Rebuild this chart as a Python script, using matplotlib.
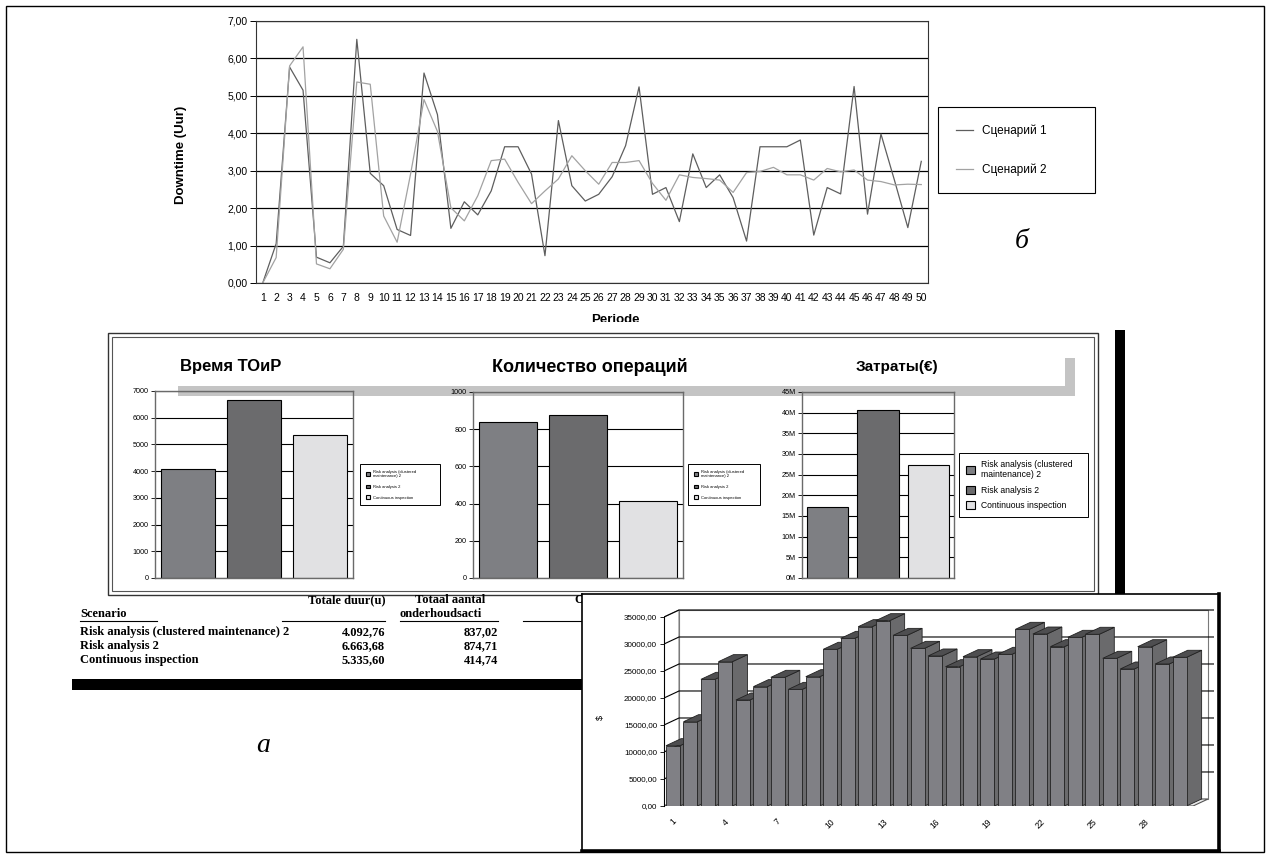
import matplotlib.pyplot as plt
from matplotlib.patches import Rectangle, Polygon
from matplotlib.ticker import FuncFormatter
from matplotlib.transforms import Bbox, TransformedBbox

plt.rcParams['font.family'] = ['Liberation Sans', 'DejaVu Sans']

W, H = 1271, 858

# downtime per period (hours), two scenarios
periods = list(range(1, 51))
downtime_s1 = [0.00, 1.05, 5.77, 5.15, 0.69, 0.54, 0.98, 6.51, 2.93, 2.60,
               1.43, 1.27, 5.61, 4.50, 1.46, 2.17, 1.82, 2.46, 3.64, 3.64,
               2.91, 0.73, 4.34, 2.60, 2.19, 2.37, 2.84, 3.67, 5.24, 2.37,
               2.55, 1.64, 3.45, 2.55, 2.89, 2.28, 1.12, 3.64, 3.64, 3.64,
               3.82, 1.28, 2.55, 2.38, 5.25, 1.84, 3.98, 2.75, 1.48, 3.25]
downtime_s2 = [0.00, 0.68, 5.80, 6.31, 0.51, 0.38, 0.90, 5.37, 5.31, 1.79,
               1.09, 2.91, 4.90, 4.05, 2.01, 1.66, 2.33, 3.27, 3.31, 2.69,
               2.12, 2.46, 2.78, 3.40, 3.00, 2.64, 3.22, 3.22, 3.27, 2.66,
               2.21, 2.89, 2.82, 2.79, 2.75, 2.42, 2.95, 2.98, 3.09, 2.89,
               2.89, 2.75, 3.06, 2.97, 3.02, 2.75, 2.71, 2.62, 2.64, 2.63]
scenario_names = ['Сценарий 1', 'Сценарий 2']

# strategy comparison
strategies = ['Risk analysis (clustered maintenance) 2', 'Risk analysis 2', 'Continuous inspection']
legend_names = ['Risk analysis (clustered\nmaintenance) 2', 'Risk analysis 2', 'Continuous inspection']
total_hours = [4092.76, 6663.68, 5335.60]
n_actions = [837.02, 874.71, 414.74]
costs_m = [17.2, 40.6, 27.4]

# cost per period ($)
cost_periods = list(range(1, 31))
cost_values = [11170, 15610, 23460, 26730, 19630, 22100, 23830, 21600, 23950, 29020,
               31050, 33210, 34320, 31600, 29200, 27780, 25800, 27650, 27220, 28090,
               32720, 31850, 29500, 31240, 31800, 27350, 25370, 29500, 26300, 27540]


def nl(v):
    return f'{v:,.2f}'.replace(',', 'X').replace('.', ',').replace('X', '.')


fig = plt.figure(figsize=(W / 100, H / 100), dpi=100)


def place(x0, y0, x1, y1):
    return fig.add_axes([x0 / W, 1 - y1 / H, (x1 - x0) / W, (y1 - y0) / H])


# page layer: frames, bands, captions, table
ov = place(0, 0, W, H)
ov.set_xlim(0, W)
ov.set_ylim(H, 0)
ov.axis('off')

ov.add_patch(Rectangle((6, 6), 1258, 846, fill=False, lw=1, ec='black'))
ov.add_patch(Rectangle((108, 333), 990, 262, fill=False, lw=1, ec='#333333'))
ov.add_patch(Rectangle((112, 337), 982, 254, fill=False, lw=0.8, ec='#555555'))
ov.add_patch(Polygon([(178, 386), (1065, 386), (1065, 358), (1075, 358),
                      (1075, 396), (178, 396)], closed=True, fc='#c4c4c4', ec='none'))
ov.add_patch(Rectangle((1115, 330), 10, 268, fc='black', ec='none'))
ov.add_patch(Rectangle((72, 679), 520, 11, fc='black', ec='none'))

ov.text(181, 155, 'Downtime (Uur)', rotation=90, ha='center', va='center',
        fontsize=9.5, fontweight='bold')
ov.text(615, 314, 'Periode', ha='center', va='top', fontsize=9.5, fontweight='bold', zorder=3)
ov.add_patch(Rectangle((540, 322), 150, 10, fc='white', ec='none', zorder=4))

ov.text(180, 367, 'Время ТОиР', ha='left', va='center', fontsize=12, fontweight='bold')
ov.text(590, 367, 'Количество операций', ha='center', va='center', fontsize=13, fontweight='bold')
ov.text(897, 367, 'Затраты(€)', ha='center', va='center', fontsize=11, fontweight='bold')

serif = dict(family='Liberation Serif', fontweight='bold', fontsize=9)
ov.text(385, 600, 'Totale duur(u)', ha='right', va='center', **serif)
ov.text(415, 600, 'Totaal aantal', ha='left', va='center', **serif)
ov.text(400, 614, 'onderhoudsacti', ha='left', va='center', **serif)
ov.text(574, 600, 'Onderhoudskosten', ha='left', va='center', **serif)
ov.text(80, 614, 'Scenario', ha='left', va='center', **serif)
for x0, x1 in [(80, 157), (282, 385), (400, 498), (523, 590)]:
    ov.plot([x0, x1], [621, 621], color='black', lw=0.8)
row_clip = TransformedBbox(Bbox([[70, 620], [293, 670]]), ov.transData)
for i, name in enumerate(strategies):
    y = 632 + i * 14
    t = ov.text(80, y, name, ha='left', va='center', **serif)
    t.set_clip_box(row_clip)
    t.set_clip_on(True)
    ov.text(385, y, nl(total_hours[i]), ha='right', va='center', **serif)
    ov.text(498, y, nl(n_actions[i]), ha='right', va='center', **serif)

ov.text(263, 746, 'а', family='Liberation Serif', style='italic', fontsize=20,
        ha='center', va='center')
ov.text(1022, 242, 'б', family='Liberation Serif', style='italic', fontsize=20,
        ha='center', va='center')

# --- downtime line chart ---
ax = place(256, 21, 928, 283)
ax.plot(periods, downtime_s1, color='#5e5e5e', lw=0.9, label=scenario_names[0])
ax.plot(periods, downtime_s2, color='#a2a2a2', lw=0.9, label=scenario_names[1])
ax.set_xlim(0.5, 50.5)
ax.set_ylim(0, 7)
ax.set_yticks(range(8))
ax.yaxis.set_major_formatter(FuncFormatter(lambda v, p: f'{v:.2f}'.replace('.', ',')))
ax.set_xticks(periods)
ax.set_xticklabels([str(p) for p in periods])
ax.yaxis.grid(True, color='black', lw=0.9)
ax.set_axisbelow(True)
ax.tick_params(axis='x', length=0, pad=7, labelsize=7.5)
ax.tick_params(axis='y', length=4, width=0.7, pad=2, labelsize=7.5)
for s in ax.spines.values():
    s.set_color('#333333')
    s.set_linewidth(0.8)
leg = ax.legend(loc='upper left', bbox_to_anchor=(938 / W, 1 - 195 / H, 157 / W, 88 / H),
                bbox_transform=fig.transFigure, mode='expand', borderaxespad=0,
                fancybox=False, edgecolor='black', framealpha=1, fontsize=8.5,
                handlelength=1.45, handletextpad=0.8, labelspacing=2.2, borderpad=1.5)
leg.get_frame().set_linewidth(0.8)

# --- strategy bar charts ---
bar_colors = ['#7e7f83', '#6b6b6d', '#e1e1e3']
panels = [
    ((155, 391, 353, 578), total_hours, 7000, 1000, '{:.0f}', 0.83, (360, 464, 80), 3.0, 1.5),
    ((473, 392, 683, 578), n_actions, 1000, 200, '{:.0f}', 0.83, (688, 464, 72), 3.0, 1.5),
    ((802, 392, 954, 578), costs_m, 45, 5, '{:.0f}M', 0.81, (959, 453, 129), 6.2, 0.75),
]
for (x0, y0, x1, y1), vals, ymax, step, fmt, bw, (lx, ly, lw_), lfs, lsp in panels:
    bx = place(x0, y0, x1, y1)
    bx.set_facecolor('none')
    bars = bx.bar(range(3), vals, width=bw, color=bar_colors, edgecolor='black', linewidth=0.8)
    bx.set_xlim(-0.5, 2.5)
    bx.set_ylim(0, ymax)
    bx.set_yticks(range(0, ymax + 1, step))
    bx.yaxis.set_major_formatter(FuncFormatter(lambda v, p, f=fmt: f.format(v)))
    bx.set_xticks([])
    bx.yaxis.grid(True, color='black', lw=0.8)
    bx.set_axisbelow(True)
    bx.tick_params(axis='y', labelsize=5.2, length=3, width=0.6, pad=1.5)
    for s in bx.spines.values():
        s.set_color('#6a6a6a')
        s.set_linewidth(1)
    lg = bx.legend(bars.patches, legend_names, loc='upper left',
                   bbox_to_anchor=(lx / W, 1 - (ly + 40) / H, lw_ / W, 40 / H),
                   bbox_transform=fig.transFigure, mode='expand', borderaxespad=0,
                   fancybox=False, edgecolor='black', framealpha=1, fontsize=lfs,
                   handlelength=1.0, handleheight=1.0, handletextpad=0.8,
                   labelspacing=lsp, borderpad=1.4 if lfs < 5 else 0.8)
    lg.get_frame().set_linewidth(0.7)

# --- cost per period, pseudo-3D columns ---
box = place(582, 594, 1219, 851)
box.set_xticks([])
box.set_yticks([])
for s in box.spines.values():
    s.set_linewidth(1.2)
box.spines['right'].set_linewidth(2.6)
box.spines['bottom'].set_linewidth(2.6)
box.text(18 / 637, 1 - 123 / 257, '$', rotation=90, ha='center', va='center',
         fontsize=6.5, transform=box.transAxes)

c3 = place(664, 596, 1214, 806)
c3.set_facecolor('none')
n = len(cost_values)
x_lo, x_hi = 0.485, n + 0.77
dx, dy, top = 0.86, 1300, 35000
c3.set_xlim(x_lo, x_lo + 550 / 17.47)
c3.set_ylim(0, 210 * 185.2)

c3.add_patch(Polygon([(x_lo + dx, dy), (x_hi + dx, dy), (x_hi + dx, top + dy), (x_lo + dx, top + dy)],
                     closed=True, fc='white', ec='#7a7a7a', lw=0.8, zorder=1))
c3.add_patch(Polygon([(x_lo, 0), (x_lo + dx, dy), (x_lo + dx, top + dy), (x_lo, top)],
                     closed=True, fc='white', ec='#7a7a7a', lw=0.8, zorder=1))
c3.add_patch(Polygon([(x_lo, 0), (x_hi, 0), (x_hi + dx, dy), (x_lo + dx, dy)],
                     closed=True, fc='#e8e8e8', ec='#555555', lw=0.8, zorder=1))
for v in range(5000, top + 1, 5000):
    c3.plot([x_lo, x_lo + dx, x_hi + dx, x_hi + dx + 0.35], [v, v + dy, v + dy, v + dy],
            color='black', lw=0.8, zorder=1.5)

hw = 0.4
front = c3.bar(cost_periods, cost_values, width=2 * hw, color='#808085',
               edgecolor='#222222', linewidth=0.6)
for k, v, patch in zip(cost_periods, cost_values, front.patches):
    z = 2 + 3 * k
    c3.add_patch(Polygon([(k + hw, 0), (k + hw + dx, dy), (k + hw + dx, v + dy), (k + hw, v)],
                         closed=True, fc='#6a6a6c', ec='#222222', lw=0.6, zorder=z))
    c3.add_patch(Polygon([(k - hw, v), (k + hw, v), (k + hw + dx, v + dy), (k - hw + dx, v + dy)],
                         closed=True, fc='#4e4e50', ec='#222222', lw=0.6, zorder=z + 1))
    patch.set_zorder(z + 2)

c3.set_yticks(range(0, top + 1, 5000))
c3.yaxis.set_major_formatter(FuncFormatter(lambda v, p: f'{v:.2f}'.replace('.', ',')))
c3.set_xticks(cost_periods[::3])
c3.set_xticklabels([str(k) for k in cost_periods[::3]], rotation=45)
c3.tick_params(axis='x', length=0, pad=8, labelsize=6.2)
c3.tick_params(axis='y', length=3, width=0.6, pad=2, labelsize=5.8)
for name in ['top', 'right', 'bottom']:
    c3.spines[name].set_visible(False)
c3.spines['left'].set_bounds(0, top)
c3.spines['left'].set_linewidth(0.8)

fig.savefig('out.png', dpi=100)
